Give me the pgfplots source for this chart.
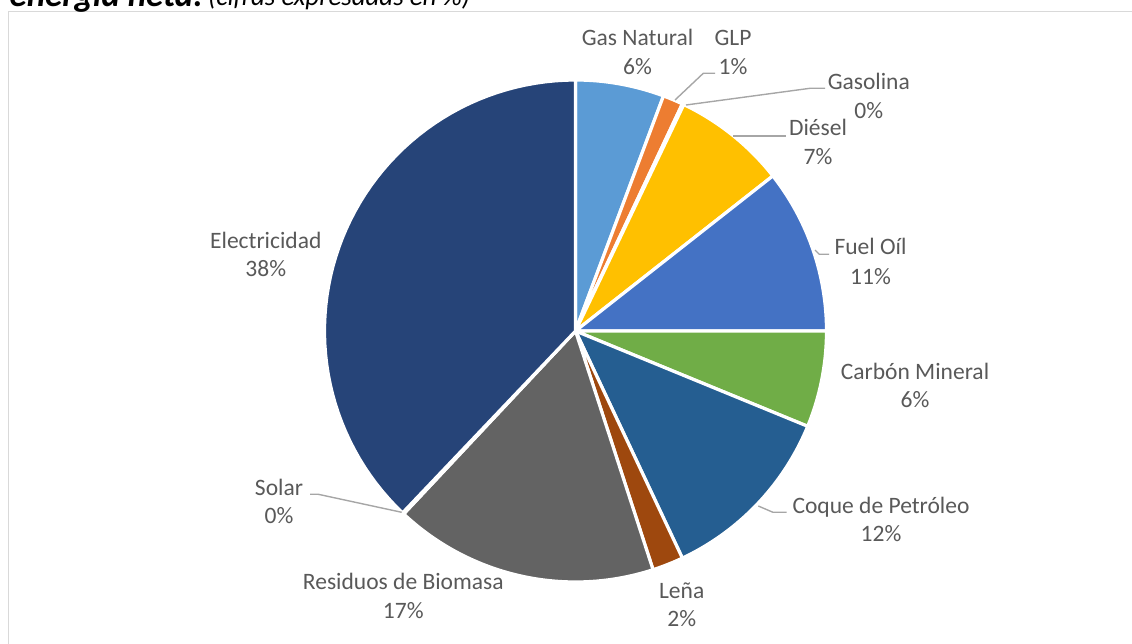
\documentclass[border=0pt]{standalone}
\usepackage{pgfplots}
\pgfplotsset{compat=1.18}
\usepackage{pgfplotstable}
\usepackage{fontspec}
\setmainfont{Carlito}

\definecolor{cGas}{HTML}{5B9BD5}
\definecolor{cGLP}{HTML}{ED7D31}
\definecolor{cGasolina}{HTML}{A5A5A5}
\definecolor{cDiesel}{HTML}{FFC000}
\definecolor{cFuel}{HTML}{4472C4}
\definecolor{cCarbon}{HTML}{70AD47}
\definecolor{cCoque}{HTML}{255E91}
\definecolor{cLena}{HTML}{9E480E}
\definecolor{cResiduos}{HTML}{636363}
\definecolor{cSolar}{HTML}{997300}
\definecolor{cElec}{HTML}{264478}
\definecolor{labgray}{HTML}{595959}
\definecolor{leadgray}{HTML}{A6A6A6}
\definecolor{framegray}{HTML}{D9D9D9}

% shares in percent, clockwise from the top
\pgfplotstableread{
name value color
GasNatural 5.7 cGas
GLP 1.3 cGLP
Gasolina 0.1 cGasolina
Diesel 7.3 cDiesel
FuelOil 10.6 cFuel
CarbonMineral 6.2 cCarbon
CoquePetroleo 11.8 cCoque
Lena 2.0 cLena
ResiduosBiomasa 17.0 cResiduos
Solar 0.1 cSolar
Electricidad 37.9 cElec
}\piedata

\begin{document}
\begin{tikzpicture}[
  lab/.style={font=\fontsize{23.6pt}{28pt}\selectfont, text=labgray, anchor=base, inner sep=0pt},
  lead/.style={draw=leadgray, line width=1.4bp}]
\useasboundingbox (0,0) rectangle (1132bp,644bp);
\clip (0,0) rectangle (1132bp,644bp);
\begin{axis}[at={(0,0)}, anchor=south west, x=1bp, y=1bp,
  xmin=0, xmax=1132, ymin=0, ymax=644, hide axis, clip=false]
% frame
\draw[draw=framegray, line width=1.5bp] (8.5,0) -- (8.5,632.7) -- (1140,632.7);
% title (cut at the top)
\node[anchor=base east, inner sep=0pt, font=\fontsize{35pt}{40pt}\selectfont\bfseries\itshape] at (203,637.5) {energía neta:};
\node[anchor=base west, inner sep=0pt, font=\fontsize{27pt}{32pt}\selectfont\itshape] at (208,638) {(cifras expresadas en \%)};
% pie
\gdef\cum{0}
\pgfplotsforeachungrouped \i in {0,...,10}{%
  \pgfplotstablegetelem{\i}{value}\of\piedata \let\v\pgfplotsretval
  \pgfplotstablegetelem{\i}{color}\of\piedata \let\c\pgfplotsretval
  \pgfmathsetmacro\aA{\cum*3.6}%
  \pgfmathsetmacro\aB{(\cum+\v)*3.6}%
  \pgfmathsetmacro\newcum{\cum+\v}%
  \global\let\cum\newcum
  \edef\doplot{\noexpand\addplot[fill=\c, draw=white, line width=3.2bp, line join=round, domain=\aA:\aB, samples=61] ({575.5+251*sin(x)},{313+251*cos(x)}) -- (575.5,313) -- cycle;}%
  \doplot
}
% leader lines
\draw[lead] (675,544) -- (703.3,570.7) -- (715,570.7);
\draw[lead] (686,539) -- (810,555.7) -- (825,555.7);
\draw[lead] (733,508) -- (786,508);
\draw[lead] (815,394) -- (819.3,389.7) -- (829,389.7);
\draw[lead] (758.3,138) -- (773,131.7) -- (786.7,131.7);
\draw[lead] (401.7,131.7) -- (318.3,149.7) -- (310,149.7);
% labels
\node[lab] at (637.5,598) {Gas Natural};   \node[lab] at (637.5,569.5) {6\%};
\node[lab] at (733,598) {GLP};             \node[lab] at (733,569.5) {1\%};
\node[lab] at (868.8,554) {Gasolina};      \node[lab] at (868.8,525.7) {0\%};
\node[lab] at (818,508) {Diésel};          \node[lab] at (818,479) {7\%};
\node[lab] at (870.5,389) {Fuel Oíl};      \node[lab] at (870.5,360) {11\%};
\node[lab] at (915,264.7) {Carbón Mineral}; \node[lab] at (915,236.3) {6\%};
\node[lab] at (881,130.7) {Coque de Petróleo}; \node[lab] at (881,102.3) {12\%};
\node[lab] at (681.7,45.7) {Leña};         \node[lab] at (681.7,17.3) {2\%};
\node[lab] at (403.3,54.7) {Residuos de Biomasa}; \node[lab] at (403.3,25.7) {17\%};
\node[lab] at (279,149) {Solar};           \node[lab] at (279,120.7) {0\%};
\node[lab] at (265.8,395.7) {Electricidad}; \node[lab] at (265.8,367.3) {38\%};
\end{axis}
\end{tikzpicture}
\end{document}
